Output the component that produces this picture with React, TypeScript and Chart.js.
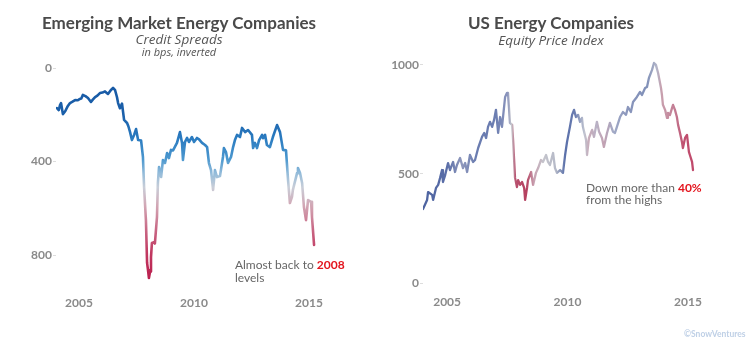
import React, { useEffect, useRef } from "react";
import { Chart, registerables } from "chart.js";

Chart.register(...registerables);

// ---------- Data ----------
const EM_DATES = [
  2004.04, 2004.12, 2004.17, 2004.22, 2004.3, 2004.4, 2004.5, 2004.61, 2004.7, 2004.83, 2004.95,
  2005.04, 2005.1, 2005.17, 2005.28, 2005.39, 2005.52, 2005.6, 2005.7, 2005.8, 2005.91, 2006.02,
  2006.13, 2006.26, 2006.38, 2006.48, 2006.57, 2006.65, 2006.7, 2006.78, 2006.87, 2006.96, 2007.09,
  2007.15, 2007.22, 2007.3, 2007.4, 2007.48, 2007.57, 2007.7, 2007.78, 2007.83, 2007.91, 2007.96,
  2008.0, 2008.04, 2008.09, 2008.13, 2008.17, 2008.26, 2008.3, 2008.39, 2008.43, 2008.48, 2008.57,
  2008.65, 2008.74, 2008.83, 2008.91, 2009.0, 2009.09, 2009.18, 2009.26, 2009.39, 2009.48, 2009.52,
  2009.61, 2009.7, 2009.78, 2009.91, 2010.0, 2010.13, 2010.22, 2010.35, 2010.48, 2010.57, 2010.65,
  2010.74, 2010.83, 2010.91, 2011.0, 2011.13, 2011.26, 2011.3, 2011.39, 2011.48, 2011.61, 2011.7,
  2011.78, 2011.87, 2012.0, 2012.09, 2012.22, 2012.35, 2012.52, 2012.57, 2012.65, 2012.74, 2012.83,
  2012.96, 2013.0, 2013.09, 2013.17, 2013.3, 2013.43, 2013.61, 2013.74, 2013.87, 2014.0, 2014.09,
  2014.17, 2014.26, 2014.3, 2014.48, 2014.52, 2014.61, 2014.7, 2014.78, 2014.87, 2014.96, 2015.09,
  2015.13, 2015.22,
];
const EM_SPREADS = [
  171, 180, 160, 150, 197, 185, 165, 150, 145, 137, 138,
  132, 130, 115, 120, 128, 145, 135, 124, 118, 107, 105,
  100, 111, 95, 85, 95, 124, 150, 172, 152, 222, 235,
  250, 274, 308, 285, 261, 308, 310, 380, 509, 650, 833,
  863, 897, 870, 808, 748, 744, 750, 637, 491, 423, 466,
  393, 406, 363, 385, 350, 352, 335, 320, 274, 320, 393,
  316, 299, 316, 295, 316, 299, 305, 320, 329, 338, 406,
  436, 521, 436, 466, 462, 380, 342, 359, 406, 380, 338,
  308, 286, 295, 256, 274, 265, 286, 342, 320, 342, 308,
  286, 300, 286, 329, 338, 295, 244, 274, 350, 352, 479,
  577, 551, 521, 449, 427, 449, 491, 594, 650, 564, 572,
  637, 756,
];

const US_DATES = [
  2004.0, 2004.17, 2004.21, 2004.38, 2004.42, 2004.54, 2004.63, 2004.71, 2004.79, 2004.83, 2004.92,
  2005.04, 2005.12, 2005.25, 2005.33, 2005.41, 2005.54, 2005.66, 2005.75, 2005.83, 2005.95, 2006.08,
  2006.16, 2006.29, 2006.45, 2006.54, 2006.62, 2006.7, 2006.78, 2006.87, 2006.95, 2007.03, 2007.12,
  2007.2, 2007.28, 2007.41, 2007.49, 2007.53, 2007.61, 2007.7, 2007.74, 2007.82, 2007.9, 2007.95,
  2008.03, 2008.11, 2008.2, 2008.24, 2008.32, 2008.36, 2008.49, 2008.57, 2008.69, 2008.78, 2008.9,
  2008.98, 2009.11, 2009.19, 2009.27, 2009.4, 2009.48, 2009.56, 2009.69, 2009.81, 2009.9, 2009.98,
  2010.1, 2010.19, 2010.27, 2010.35, 2010.44, 2010.52, 2010.6, 2010.64, 2010.77, 2010.81, 2010.89,
  2011.02, 2011.1, 2011.22, 2011.31, 2011.43, 2011.51, 2011.64, 2011.76, 2011.89, 2011.97, 2012.05,
  2012.18, 2012.3, 2012.43, 2012.51, 2012.63, 2012.72, 2012.88, 2013.01, 2013.09, 2013.22, 2013.3,
  2013.38, 2013.51, 2013.59, 2013.67, 2013.76, 2013.8, 2013.88, 2013.92, 2013.96, 2014.05, 2014.13,
  2014.17, 2014.25, 2014.34, 2014.38, 2014.46, 2014.54, 2014.59, 2014.67, 2014.75, 2014.79, 2014.88,
  2014.96, 2015.04, 2015.08, 2015.17, 2015.21,
];
const US_INDEX = [
  339, 381, 417, 404, 381, 436, 450, 482, 518, 463, 495,
  550, 518, 555, 509, 541, 573, 527, 550, 509, 587, 555,
  564, 619, 670, 688, 665, 716, 739, 716, 748, 794, 688,
  761, 716, 853, 872, 872, 734, 725, 656, 482, 440, 472,
  450, 463, 436, 381, 436, 472, 509, 450, 505, 527, 564,
  555, 587, 555, 541, 596, 527, 505, 518, 505, 587, 647,
  716, 771, 794, 761, 771, 739, 757, 716, 656, 587, 665,
  702, 670, 739, 693, 665, 624, 688, 734, 693, 688, 716,
  761, 784, 771, 807, 784, 830, 853, 876, 862, 894, 899,
  940, 977, 1009, 1000, 963, 940, 894, 862, 817, 794, 757,
  780, 770, 803, 817, 794, 761, 725, 688, 647, 619, 665,
  679, 601, 587, 555, 518,
];

const X_TICKS = [2005, 2010, 2015];
const EM_Y_TICKS = [0, 400, 800];
const US_Y_TICKS = [0, 500, 1000];

// ---------- Styles ----------
const FONT = "Lato, 'Open Sans', sans-serif";
const SUB_FONT = "'Open Sans', Lato, sans-serif";
const TICK_COLOR = "#8a8a8a";
const TEXT_COLOR = "#4a4a4a";

const EM_Y_MAX = 920;
const EM_STOPS: [number, string][] = [
  [0, "#1656a2"],
  [200, "#1b60aa"],
  [300, "#2a7bc0"],
  [390, "#4c98cf"],
  [450, "#94bcda"],
  [510, "#c9ced8"],
  [590, "#d2a6b4"],
  [690, "#c86784"],
  [790, "#c13961"],
  [920, "#b91b4b"],
];

const US_X_MIN = 2004;
const US_X_MAX = 2015.5;
const US_STOPS: [number, string][] = [
  [2004.0, "#4d63a0"],
  [2005.0, "#5a6ea8"],
  [2005.6, "#8f98bc"],
  [2006.2, "#6a7cb0"],
  [2007.0, "#6b7db1"],
  [2007.5, "#8a94bc"],
  [2007.68, "#c6c6cc"],
  [2007.85, "#b8506e"],
  [2008.3, "#b5405f"],
  [2008.6, "#c8a0b0"],
  [2009.0, "#c4c4cc"],
  [2009.5, "#b6bac8"],
  [2009.9, "#5a70aa"],
  [2010.3, "#6a7cb0"],
  [2010.7, "#c0c4d0"],
  [2010.9, "#c8aab8"],
  [2011.2, "#b8b2c6"],
  [2011.5, "#c4a2b2"],
  [2011.9, "#a2aac6"],
  [2012.5, "#8a96bc"],
  [2013.3, "#8090b8"],
  [2013.7, "#b2b5c8"],
  [2013.9, "#c8a0ae"],
  [2014.5, "#c27890"],
  [2014.8, "#c05070"],
  [2015.5, "#c04468"],
];

type Part = [string, boolean];

function notePlugin(xVal: number, yVal: number, line1: Part[], line2: string) {
  return {
    id: "note",
    afterDatasetsDraw(chart: any) {
      const ctx = chart.ctx;
      const x = chart.scales.x.getPixelForValue(xVal);
      const y = chart.scales.y.getPixelForValue(yVal);
      ctx.save();
      ctx.textAlign = "left";
      ctx.textBaseline = "alphabetic";
      let cx = x;
      for (const [t, hl] of line1) {
        ctx.font = hl ? `bold 12px ${FONT}` : `12px ${FONT}`;
        ctx.fillStyle = hl ? "#e3141d" : "#666666";
        ctx.fillText(t, cx, y);
        cx += ctx.measureText(t).width;
      }
      ctx.font = `12px ${FONT}`;
      ctx.fillStyle = "#666666";
      ctx.fillText(line2, x, y + 12.5);
      ctx.restore();
    },
  };
}

function tickFont() {
  return { family: FONT, weight: "bold" as const, size: 12 };
}

function EMChart() {
  const ref = useRef<HTMLCanvasElement | null>(null);
  useEffect(() => {
    if (!ref.current) return;
    const data = EM_DATES.map((d, i) => ({ x: d, y: EM_SPREADS[i] }));
    const chart = new Chart(ref.current, {
      type: "line",
      data: {
        datasets: [
          {
            data,
            borderWidth: 2.6,
            pointRadius: 0,
            tension: 0,
            borderJoinStyle: "round",
            borderCapStyle: "round",
            borderColor: (c: any) => {
              const ch = c.chart;
              if (!ch.chartArea) return EM_STOPS[0][1];
              const y = ch.scales.y;
              const p0 = y.getPixelForValue(0);
              const p1 = y.getPixelForValue(EM_Y_MAX);
              const g = ch.ctx.createLinearGradient(0, p0, 0, p1);
              EM_STOPS.forEach(([v, col]) => g.addColorStop(v / EM_Y_MAX, col));
              return g;
            },
          },
        ],
      },
      options: {
        responsive: false,
        animation: false,
        layout: { padding: { left: 0, top: 68, right: 54.5, bottom: 30.7 } },
        plugins: {
          legend: { display: false },
          tooltip: { enabled: false },
        },
        scales: {
          x: {
            type: "linear",
            min: 2004,
            max: 2015.5,
            afterFit: (s: any) => {
              s.height = 30;
            },
            afterBuildTicks: (s: any) => {
              s.ticks = X_TICKS.map((v) => ({ value: v }));
            },
            grid: { display: false, drawTicks: false },
            border: { display: false },
            ticks: {
              padding: 13,
              color: TICK_COLOR,
              font: tickFont(),
              maxRotation: 0,
              autoSkip: false,
              callback: (v: any) => String(v),
            },
          },
          y: {
            type: "linear",
            reverse: true,
            min: 0,
            max: EM_Y_MAX,
            afterFit: (s: any) => {
              s.width = 56;
            },
            afterBuildTicks: (s: any) => {
              s.ticks = EM_Y_TICKS.map((v) => ({ value: v }));
            },
            grid: { drawOnChartArea: false, drawTicks: true, tickLength: 3, color: "#dddddd" },
            border: { display: false },
            ticks: {
              padding: 1,
              color: TICK_COLOR,
              font: tickFont(),
              callback: (v: any) => String(v),
            },
          },
        },
      },
      plugins: [
        notePlugin(2011.78, 861, [["Almost back to ", false], ["2008", true]], "levels"),
      ],
    } as any);
    return () => chart.destroy();
  }, []);
  return (
    <canvas
      ref={ref}
      width={375}
      height={344}
      style={{ position: "absolute", left: 0, top: 0 }}
    />
  );
}

function USChart() {
  const ref = useRef<HTMLCanvasElement | null>(null);
  useEffect(() => {
    if (!ref.current) return;
    const data = US_DATES.map((d, i) => ({ x: d, y: US_INDEX[i] }));
    const chart = new Chart(ref.current, {
      type: "line",
      data: {
        datasets: [
          {
            data,
            borderWidth: 2.3,
            pointRadius: 0,
            tension: 0,
            borderJoinStyle: "round",
            borderCapStyle: "round",
            borderColor: (c: any) => {
              const ch = c.chart;
              if (!ch.chartArea) return US_STOPS[0][1];
              const x = ch.scales.x;
              const a = x.getPixelForValue(US_X_MIN);
              const b = x.getPixelForValue(US_X_MAX);
              const g = ch.ctx.createLinearGradient(a, 0, b, 0);
              US_STOPS.forEach(([yr, col]) =>
                g.addColorStop((yr - US_X_MIN) / (US_X_MAX - US_X_MIN), col)
              );
              return g;
            },
          },
        ],
      },
      options: {
        responsive: false,
        animation: false,
        layout: { padding: { left: 0, top: 54, right: 50, bottom: 31 } },
        plugins: {
          legend: { display: false },
          tooltip: { enabled: false },
        },
        scales: {
          x: {
            type: "linear",
            min: US_X_MIN,
            max: US_X_MAX,
            afterFit: (s: any) => {
              s.height = 30;
            },
            afterBuildTicks: (s: any) => {
              s.ticks = X_TICKS.map((v) => ({ value: v }));
            },
            grid: { display: false, drawTicks: false },
            border: { display: false },
            ticks: {
              padding: 12,
              color: TICK_COLOR,
              font: tickFont(),
              maxRotation: 0,
              autoSkip: false,
              callback: (v: any) => String(v),
            },
          },
          y: {
            type: "linear",
            min: 0,
            max: 1050,
            afterFit: (s: any) => {
              s.width = 48;
            },
            afterBuildTicks: (s: any) => {
              s.ticks = US_Y_TICKS.map((v) => ({ value: v }));
            },
            grid: { drawOnChartArea: false, drawTicks: true, tickLength: 3, color: "#dddddd" },
            border: { display: false },
            ticks: {
              padding: 1,
              color: TICK_COLOR,
              font: tickFont(),
              callback: (v: any) => String(v),
            },
          },
        },
      },
      plugins: [
        notePlugin(2010.77, 419, [["Down more than ", false], ["40%", true]], "from the highs"),
      ],
    } as any);
    return () => chart.destroy();
  }, []);
  return (
    <canvas
      ref={ref}
      width={375}
      height={344}
      style={{ position: "absolute", left: 375, top: 0 }}
    />
  );
}

function Label(props: {
  text: string;
  cx: number;
  top: number;
  size: number;
  bold?: boolean;
  italic?: boolean;
  color?: string;
  family?: string;
}) {
  return (
    <div
      style={{
        position: "absolute",
        left: props.cx - 200,
        width: 400,
        top: props.top,
        textAlign: "center",
        fontFamily: props.family || FONT,
        fontSize: props.size,
        lineHeight: 1.2,
        fontWeight: props.bold ? 700 : 400,
        fontStyle: props.italic ? "italic" : "normal",
        color: props.color || TEXT_COLOR,
        whiteSpace: "nowrap",
      }}
    >
      {props.text}
    </div>
  );
}

export default function App() {
  return (
    <div
      style={{
        position: "fixed",
        left: 0,
        top: 0,
        width: 750,
        height: 344,
        background: "#ffffff",
        overflow: "hidden",
      }}
    >
      <EMChart />
      <USChart />
      <Label text="Emerging Market Energy Companies" cx={179} top={12.5} size={17} bold />
      <Label text="Credit Spreads" cx={179} top={31.3} size={13.5} italic color="#555555" family={SUB_FONT} />
      <Label text="in bps, inverted" cx={179} top={44.5} size={11} italic color="#555555" family={SUB_FONT} />
      <Label text="US Energy Companies" cx={551} top={12.5} size={17} bold />
      <Label text="Equity Price Index" cx={551} top={31.8} size={13.5} italic color="#555555" family={SUB_FONT} />
      <div
        style={{
          position: "absolute",
          left: 684,
          top: 329,
          fontFamily: FONT,
          fontSize: 8.5,
          fontWeight: 700,
          color: "#bfd0e6",
          whiteSpace: "nowrap",
        }}
      >
        ©SnowVentures
      </div>
    </div>
  );
}
